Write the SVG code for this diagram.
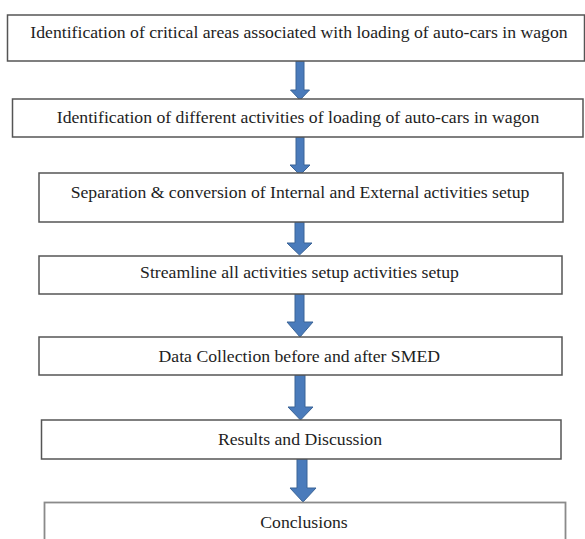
<svg xmlns="http://www.w3.org/2000/svg" width="585" height="539" viewBox="0 0 585 539">
<style>
.box{fill:#ffffff;stroke:#555555;stroke-width:1.5}
.box7{fill:#ffffff;stroke:#8a8a8a;stroke-width:1.8}
.lbl{font-family:"Liberation Serif","Times New Roman",serif;font-size:17.7px;fill:#1e1e1e;text-anchor:middle}
.arr{fill:#4a7bbb;stroke:#3a6497;stroke-width:1}
</style>
<rect width="585" height="539" fill="#ffffff"/>
<g id="connectors">
<polygon class="arr" points="296,61 304,61 304,90 309.5,90 300,100 290.5,90 296,90"/>
<polygon class="arr" points="296,137 304,137 304,165 310,165 300,175 290,165 296,165"/>
<polygon class="arr" points="295,222 304,222 304,243 312,243 299.5,255 287,243 295,243"/>
<polygon class="arr" points="295,294 304,294 304,322 313,322 300,337 287,322 295,322"/>
<polygon class="arr" points="295,375 305,375 305,407 313,407 300.5,420 288,407 295,407"/>
<polygon class="arr" points="297,459 307,459 307,488 316,488 303,502 290,488 297,488"/>
</g>
<g id="node1">
<rect class="box" x="7.5" y="15" width="577" height="46"/>
<text class="lbl" x="299" y="38">Identification of critical areas associated with loading of auto-cars in wagon</text>
</g>
<g id="node2">
<rect class="box" x="12.5" y="99" width="570.5" height="38"/>
<text class="lbl" x="298" y="122.5">Identification of different activities of loading of auto-cars in wagon</text>
</g>
<g id="node3">
<rect class="box" x="39" y="173" width="524" height="49"/>
<text class="lbl" x="300" y="198">Separation &amp; conversion of Internal and External activities setup</text>
</g>
<g id="node4">
<rect class="box" x="39" y="256" width="523" height="38"/>
<text class="lbl" x="299.5" y="278">Streamline all activities setup activities setup</text>
</g>
<g id="node5">
<rect class="box" x="39" y="337" width="523" height="38"/>
<text class="lbl" x="299.3" y="361.5">Data Collection before and after SMED</text>
</g>
<g id="node6">
<rect class="box" x="41.5" y="420" width="519.5" height="39"/>
<text class="lbl" x="300" y="445">Results and Discussion</text>
</g>
<g id="node7">
<rect class="box7" x="44.5" y="502.5" width="521" height="50"/>
<text class="lbl" x="304" y="528">Conclusions</text>
</g>
</svg>
